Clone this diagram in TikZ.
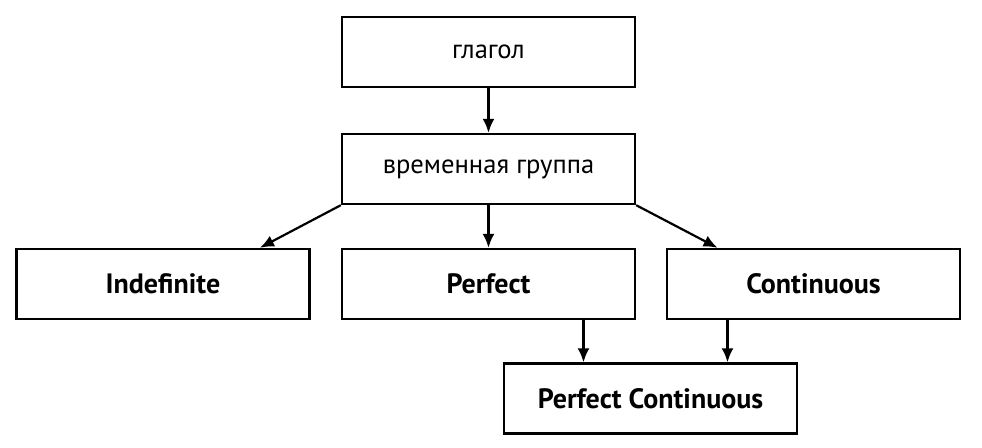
\documentclass[tikz,border=0pt]{standalone}
\usepackage{fontspec}
\setmainfont{PT Sans}
\usepackage{tikz}
\usetikzlibrary{arrows.meta}
\tikzset{
	box/.style={draw,line width=1.2pt,minimum width=146.5pt,minimum height=35pt,inner sep=0pt,font=\fontsize{13.3}{15}\selectfont},
	bbox/.style={box,font=\fontsize{14}{16}\selectfont\bfseries},
	arr/.style={-{Latex[length=7pt,width=6pt]},line width=1.1pt}
}
\begin{document}
\begin{tikzpicture}[x=0.5pt,y=-0.5pt]
	\useasboundingbox (0,0) rectangle (982,448);
	\node [box] (glagol) at (488.5,52) {глагол};
	\node [box] (vremya) at (488.5,169) {временная группа};
	\node [bbox] (indef) at (163,284) {Indefinite};
	\node [bbox] (perf) at (488.5,284) {Perfect};
	\node [bbox] (cont) at (813.5,284) {Continuous};
	\node [bbox] (perfcont) at (650.5,398.5) {Perfect Continuous};

	\draw [arr] (glagol) -- (vremya);
	\draw [arr] (vremya.south west) -- ([xshift=48.5pt]indef.north);
	\draw [arr] (vremya) -- (perf);
	\draw [arr] (vremya.south east) -- ([xshift=-48pt]cont.north);
	\draw [arr] ([xshift=47.5pt]perf.south) -- ([xshift=47.5pt]perf.south |- perfcont.north);
	\draw [arr] ([xshift=-43pt]cont.south) -- ([xshift=-43pt]cont.south |- perfcont.north);
\end{tikzpicture}
\end{document}
